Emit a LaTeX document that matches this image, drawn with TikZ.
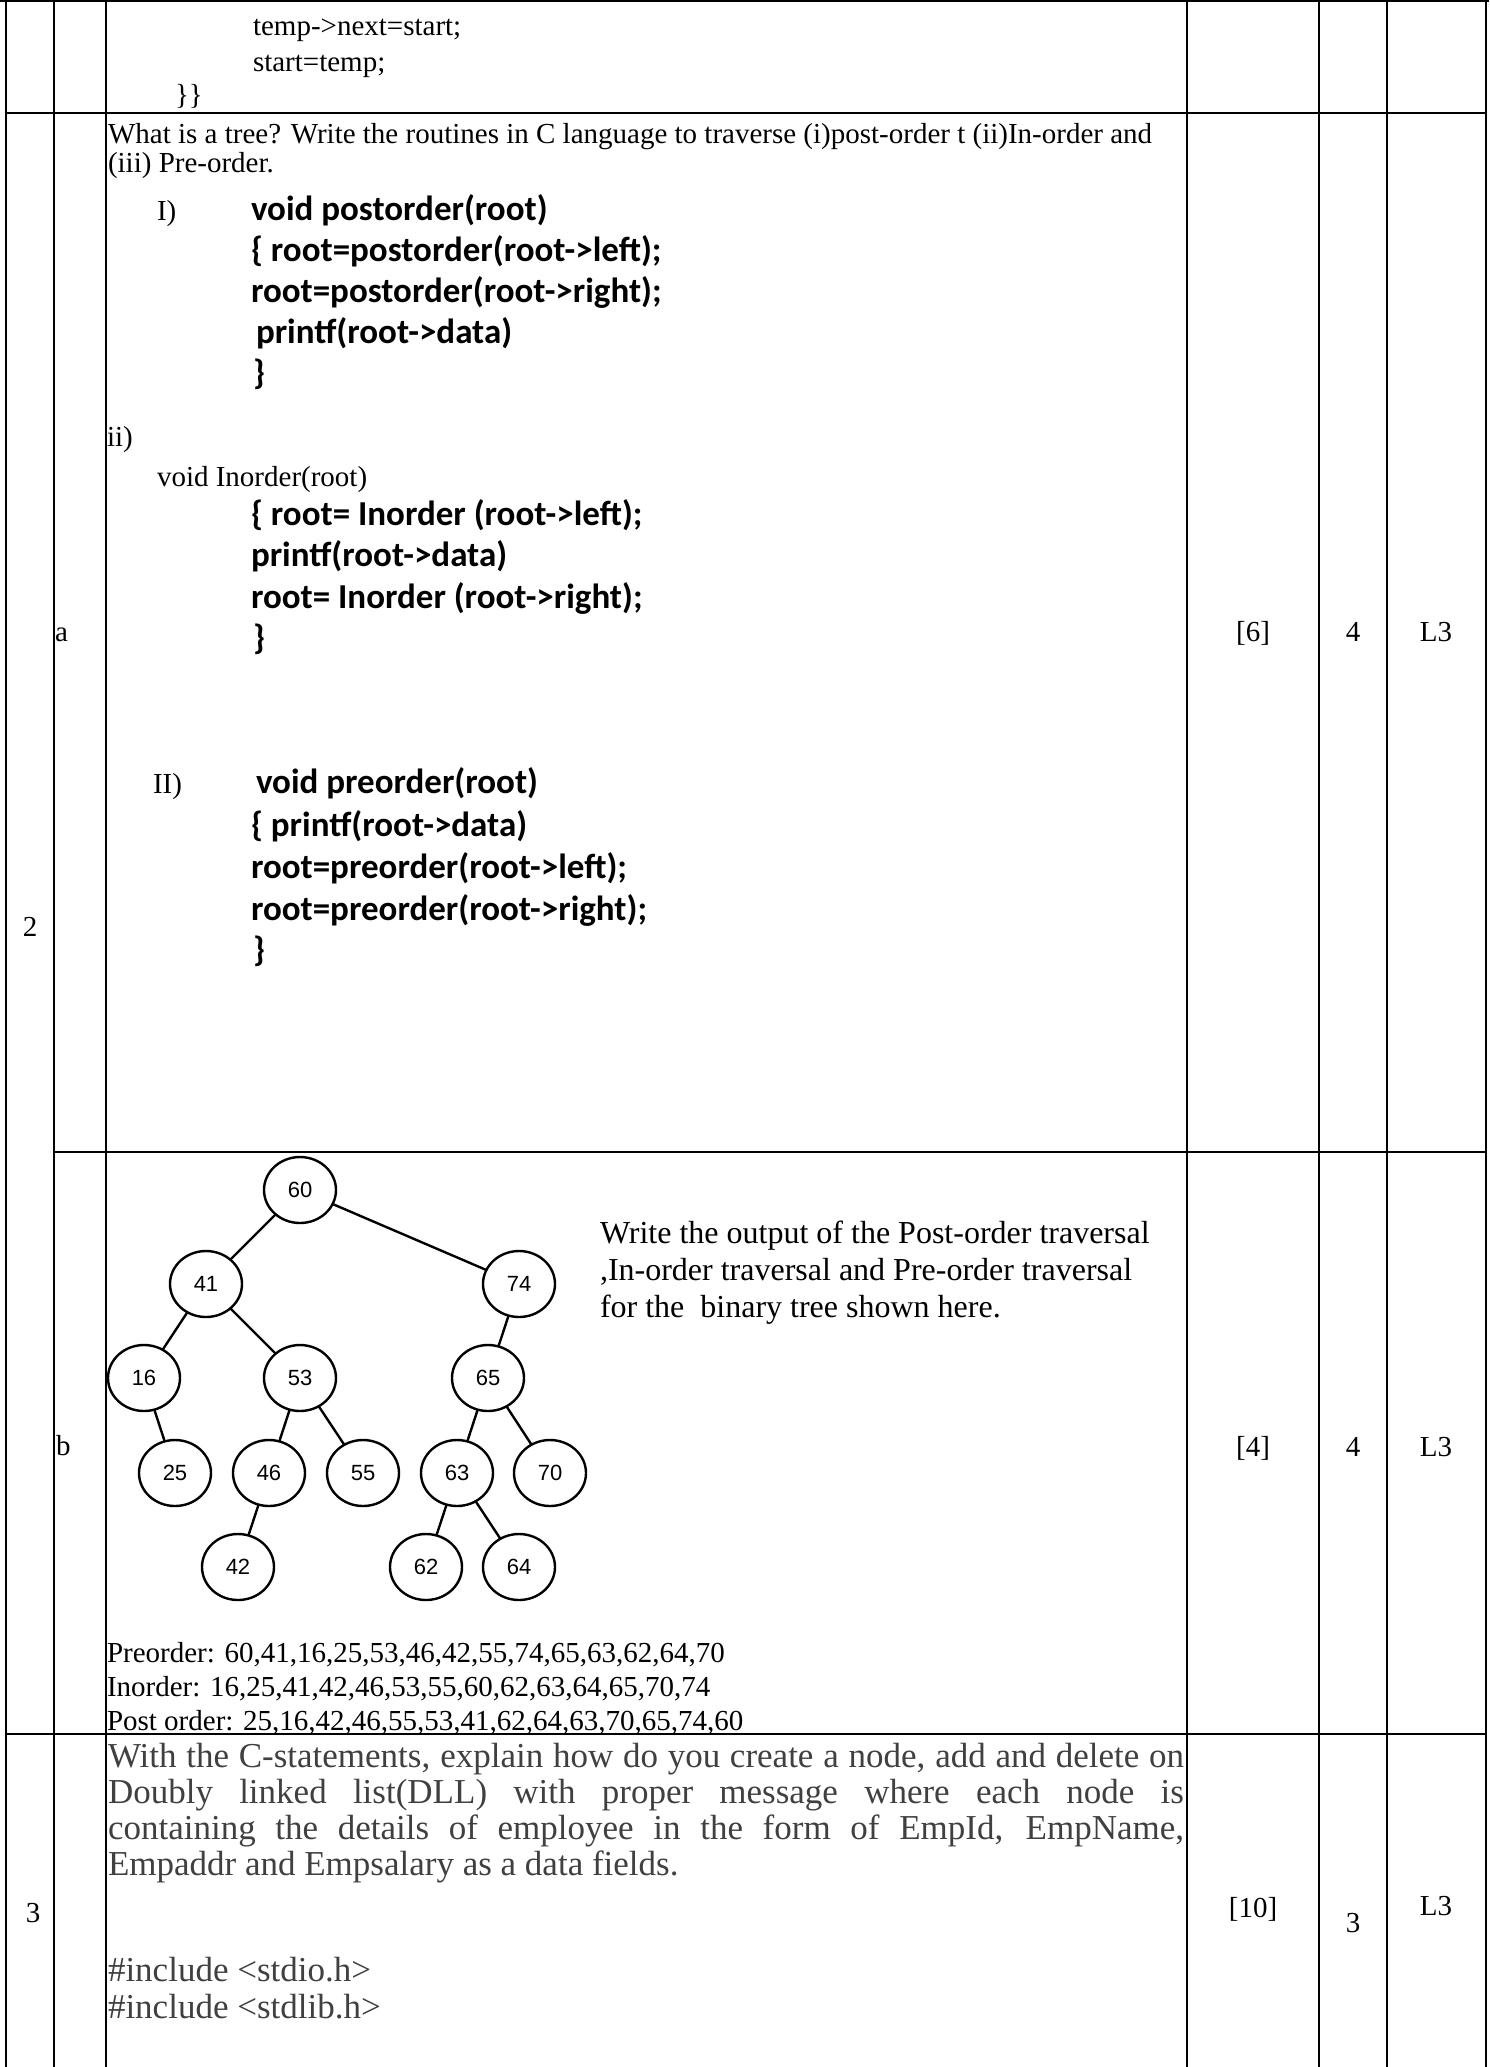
\documentclass[tikz,border=0pt]{standalone}
\usepackage{fontspec}
\setmainfont{Liberation Serif}
\newfontfamily\codefont{Carlito}
\newfontfamily\treefont{Liberation Sans}
\usetikzlibrary{shapes.geometric}
\definecolor{qgray}{HTML}{404040}

\begin{document}
\begin{tikzpicture}[x=0.5pt,y=-0.5pt,
  every node/.style={inner sep=0pt,outer sep=0pt},
  gridline/.style={line width=1pt},
  txt/.style={anchor=base west,font=\fontsize{14.5}{17}\selectfont},
  code/.style={anchor=base west,font=\codefont\bfseries\fontsize{17.5}{21}\selectfont},
  cell/.style={anchor=base,font=\fontsize{14.5}{17}\selectfont},
  big/.style={anchor=base west,font=\fontsize{16}{18}\selectfont},
  qtxt/.style={anchor=base west,text=qgray,font=\fontsize{17.5}{19}\selectfont},
  tnode/.style={draw,ellipse,line width=1.2pt,minimum width=36pt,minimum height=33pt,
    font=\treefont\fontsize{11}{12}\selectfont},
  branch/.style={line width=1.2pt}]
  \useasboundingbox (0,0) rectangle (1489,2067);

  % --- table rules (px of the page, y downwards) ---
  \draw[gridline] (0,1) -- (1489,1);
  \draw[gridline] (6,113) -- (1486,113);
  \draw[gridline] (54,1152) -- (1486,1152);
  \draw[gridline] (6,1734) -- (1486,1734);
  \foreach \x in {6,54,1187,1319,1387,1486}
    \draw[gridline] (\x,0) -- (\x,2067);
  \draw[gridline] (106,0) -- (106,1152);
  \draw[line width=0.6pt] (106,1152) -- (106,1734);
  \draw[gridline] (106,1734) -- (106,2067);

  % --- end of question 1 ---
  \node[txt] (tmpnext) at (253,35) {temp->next=start;};
  \node[txt] (starttmp) at (253,71) {start=temp;};
  \node[txt] (closing) at (175,104) {\}\}};

  % --- question 2a: traversal routines ---
  \node[txt] (qtwo1) at (108,143) {What is a tree? Write the routines in C language to traverse (i)post-order t (ii)In-order and};
  \node[txt] (qtwo2) at (108,172) {(iii) Pre-order.};
  \node[txt] (lblI) at (157,220) {I)};
  \node[code] (post1) at (251,220) {void postorder(root)};
  \node[code] (post2) at (251,261) {\{ root=postorder(root->left);};
  \node[code] (post3) at (251,302) {root=postorder(root->right);};
  \node[code] (post4) at (256,343) {printf(root->data)};
  \node[code] (post5) at (253,384) {\}};
  \node[txt] (lblii) at (107,446) {ii)};
  \node[txt] (inhead) at (157,486) {void Inorder(root)};
  \node[code] (in1) at (251,525) {\{ root= Inorder (root->left);};
  \node[code] (in2) at (251,566) {printf(root->data)};
  \node[code] (in3) at (251,608) {root= Inorder (root->right);};
  \node[code] (in4) at (253,649) {\}};
  \node[txt] (lblII) at (153,793) {II)};
  \node[code] (pre1) at (256,793) {void preorder(root)};
  \node[code] (pre2) at (251,836) {\{ printf(root->data)};
  \node[code] (pre3) at (251,878) {root=preorder(root->left);};
  \node[code] (pre4) at (251,920) {root=preorder(root->right);};
  \node[code] (pre5) at (253,961) {\}};
  \node[txt] (suba) at (55,641) {a};
  \node[cell] (qno2) at (30,936) {2};
  \node[cell] (marks6) at (1253,641) {[6]};
  \node[cell] (co2a) at (1353,641) {4};
  \node[cell] (lvl2a) at (1436,641) {L3};

  % --- question 2b: the binary tree ---
  \node[tnode] (n60) at (300,1190) {60};
  \node[tnode] (n41) at (206,1284) {41};
  \node[tnode] (n74) at (519,1284) {74};
  \node[tnode] (n16) at (144,1378) {16};
  \node[tnode] (n53) at (300,1378) {53};
  \node[tnode] (n65) at (488,1378) {65};
  \node[tnode] (n25) at (175,1473) {25};
  \node[tnode] (n46) at (269,1473) {46};
  \node[tnode] (n55) at (363,1473) {55};
  \node[tnode] (n63) at (457,1473) {63};
  \node[tnode] (n70) at (550,1473) {70};
  \node[tnode] (n42) at (238,1567) {42};
  \node[tnode] (n62) at (426,1567) {62};
  \node[tnode] (n64) at (519,1567) {64};
  \draw[branch] (n60) -- (n41);
  \draw[branch] (n60) -- (n74);
  \draw[branch] (n41) -- (n16);
  \draw[branch] (n41) -- (n53);
  \draw[branch] (n16) -- (n25);
  \draw[branch] (n53) -- (n46);
  \draw[branch] (n53) -- (n55);
  \draw[branch] (n46) -- (n42);
  \draw[branch] (n74) -- (n65);
  \draw[branch] (n65) -- (n63);
  \draw[branch] (n65) -- (n70);
  \draw[branch] (n63) -- (n62);
  \draw[branch] (n63) -- (n64);

  \node[big] (ask1) at (600,1243) {Write the output of the Post-order traversal};
  \node[big] (ask2) at (600,1280) {,In-order traversal and Pre-order traversal};
  \node[big] (ask3) at (600,1317) {for the \ binary tree shown here.};
  \node[txt] (subb) at (56,1455) {b};
  \node[cell] (marks4) at (1253,1456) {[4]};
  \node[cell] (co2b) at (1353,1456) {4};
  \node[cell] (lvl2b) at (1436,1456) {L3};
  \node[txt] (preout) at (107,1662) {Preorder: 60,41,16,25,53,46,42,55,74,65,63,62,64,70};
  \node[txt] (inout) at (107,1696) {Inorder: 16,25,41,42,46,53,55,60,62,63,64,65,70,74};
  \node[txt] (postout) at (107,1730) {Post order: 25,16,42,46,55,53,41,62,64,63,70,65,74,60};

  % --- question 3: doubly linked list ---
  \node[qtxt] (qthree1) at (108,1767) {\makebox[538pt][s]{With the C-statements, explain how do you create a node, add and delete on}};
  \node[qtxt] (qthree2) at (108,1803) {\makebox[538pt][s]{Doubly linked list(DLL) with proper message where each node is}};
  \node[qtxt] (qthree3) at (108,1839) {\makebox[538pt][s]{containing the details of employee in the form of EmpId, EmpName,}};
  \node[qtxt] (qthree4) at (108,1875) {Empaddr and Empsalary as a data fields.};
  \node[qtxt] (inc1) at (108,1981) {\#include <stdio.h>};
  \node[qtxt] (inc2) at (108,2018) {\#include <stdlib.h>};
  \node[cell] (qno3) at (33,1922) {3};
  \node[cell] (marks10) at (1253,1917) {[10]};
  \node[cell] (co3) at (1353,1932) {3};
  \node[cell] (lvl3) at (1436,1915) {L3};
\end{tikzpicture}
\end{document}
